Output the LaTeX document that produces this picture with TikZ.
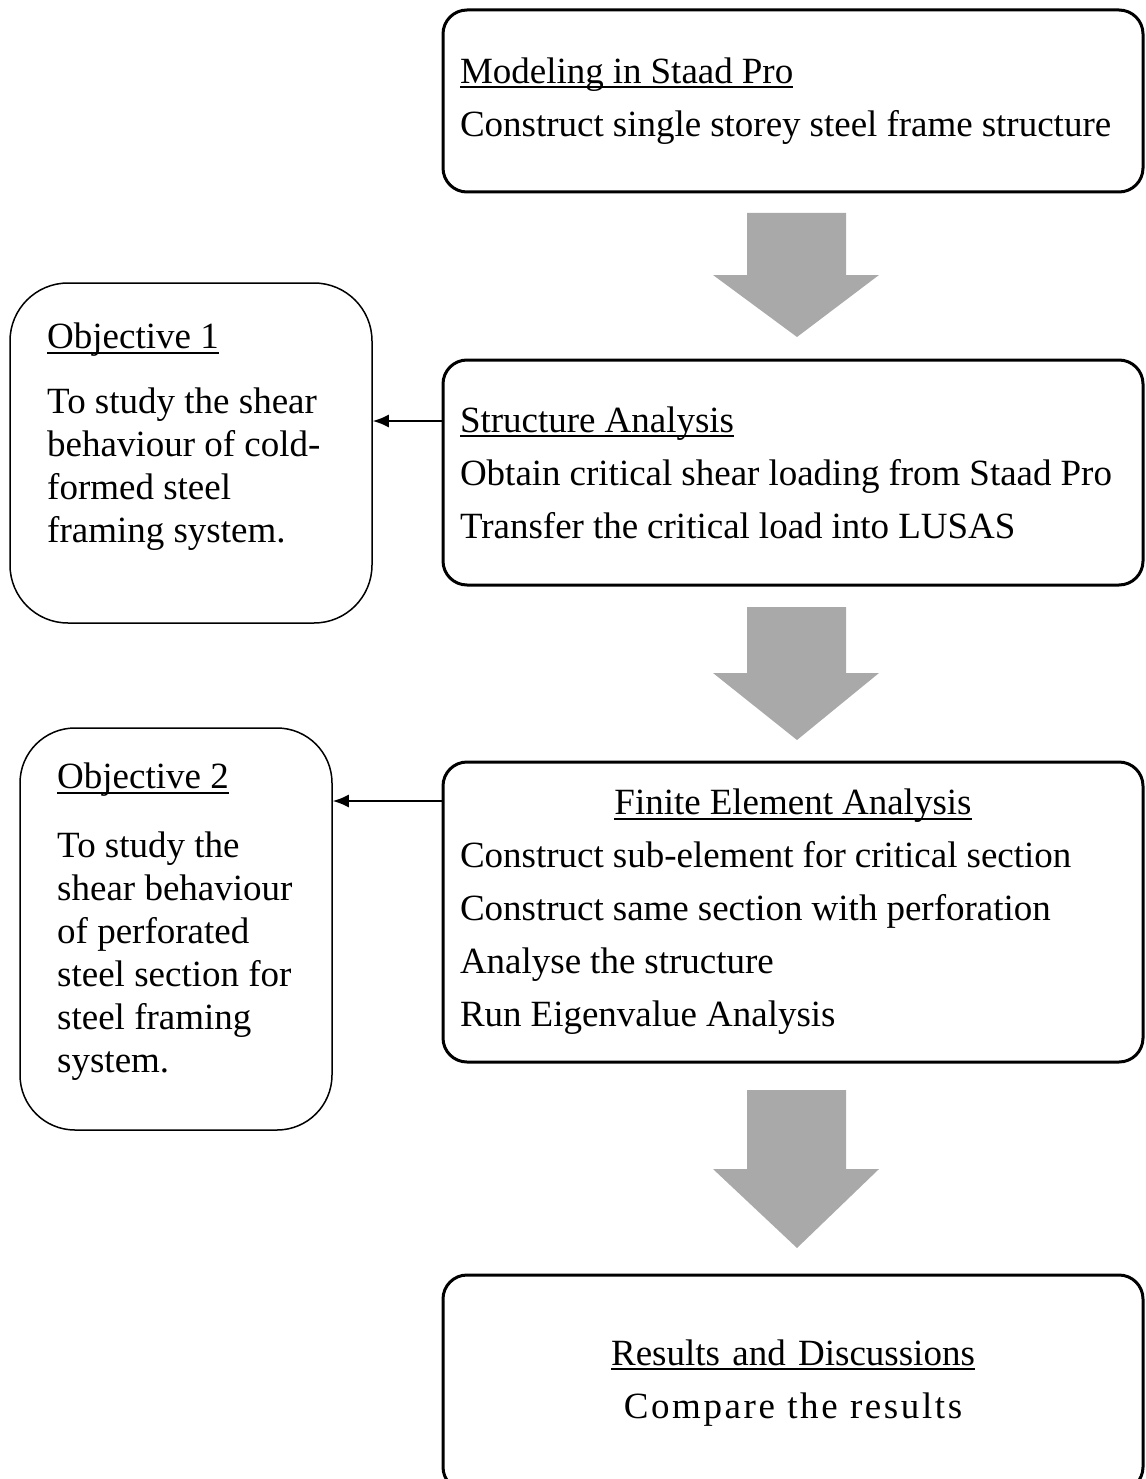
\documentclass[tikz,border=0pt]{standalone}
\usepackage{fontspec}
\setmainfont{Liberation Serif}
\usetikzlibrary{arrows.meta}
\definecolor{arrowgray}{RGB}{169,169,169}
\newcommand{\hdr}[1]{\leavevmode\setbox0\hbox{#1}\rlap{\rule[-5pt]{\wd0}{2pt}}\box0} % Underlined heading.
\newcommand{\stagefont}{\fontsize{37}{53}\selectfont\spaceskip=9pt plus 3pt minus 2pt\relax}

\begin{document}
\begin{tikzpicture}[x=1pt, y=-1pt,
  every node/.style={font=\fontsize{37}{53}\selectfont},
  stage/.style={draw, line width=3pt, rounded corners=24pt, minimum width=700pt,
    text width=666pt, align=flush left, font=\stagefont},
  goal/.style={draw, line width=1.5pt, rounded corners=#1},
  goaltext/.style={anchor=north west, inner sep=0pt, align=left,
    font=\fontsize{37}{43}\selectfont},
  link/.style={line width=1.8pt, -{Latex[length=16pt, width=13pt]}}]
\useasboundingbox (0,0) rectangle (1145,1479);
\clip (0,0) rectangle (1145,1479);

% main stages
\node[stage, minimum height=182pt] (model) at (793,101)
  {\hdr{Modeling in Staad Pro}\\ Construct single storey steel frame structure};
\node[stage, minimum height=225pt] (struct) at (793,472.5)
  {\hdr{Structure Analysis}\\ Obtain critical shear loading from Staad Pro\\
   Transfer the critical load into LUSAS};
\node[stage, minimum height=300pt] (fea) at (793,912)
  {\hfill\hdr{Finite Element Analysis}\hfill\null\\
   Construct sub-element for critical section\\
   Construct same section with perforation\\
   Analyse the structure\\ Run Eigenvalue Analysis};
\node[stage, minimum height=216pt, align=center] (results) at (793,1383)
  {\hdr{Results and Discussions}\\ {\addfontfeature{LetterSpace=7}Compare the results}};

% objectives
\node[goal=58pt, minimum width=362pt, minimum height=340pt] (obj1) at (191,453) {};
\node[goaltext] (obj1text) at (47,322.7)
  {\hdr{Objective 1}\\[22pt] To study the shear\\ behaviour of cold-\\
   formed steel\\ framing system.};
\node[goal=55pt, minimum width=312pt, minimum height=402pt] (obj2) at (176,929) {};
\node[goaltext] (obj2text) at (57,762.7)
  {\hdr{Objective 2}\\[26pt] To study the\\ shear behaviour\\ of perforated\\
   steel section for\\ steel framing\\ system.};

% flow arrows
\foreach \top/\mid/\tip in {213/275/337, 607/673/740, 1090/1169/1248}
  \fill[arrowgray] (747,\top) -- (846,\top) -- (846,\mid) -- (879,\mid)
    -- (797,\tip) -- (713,\mid) -- (747,\mid) -- cycle;

\coordinate (s2) at ([yshift=51.5pt]struct.west);
\coordinate (s3) at ([yshift=111pt]fea.west);
\draw[link] (s2) -- (s2 -| obj1.east);
\draw[link] (s3) -- (s3 -| obj2.east);
\end{tikzpicture}
\end{document}
